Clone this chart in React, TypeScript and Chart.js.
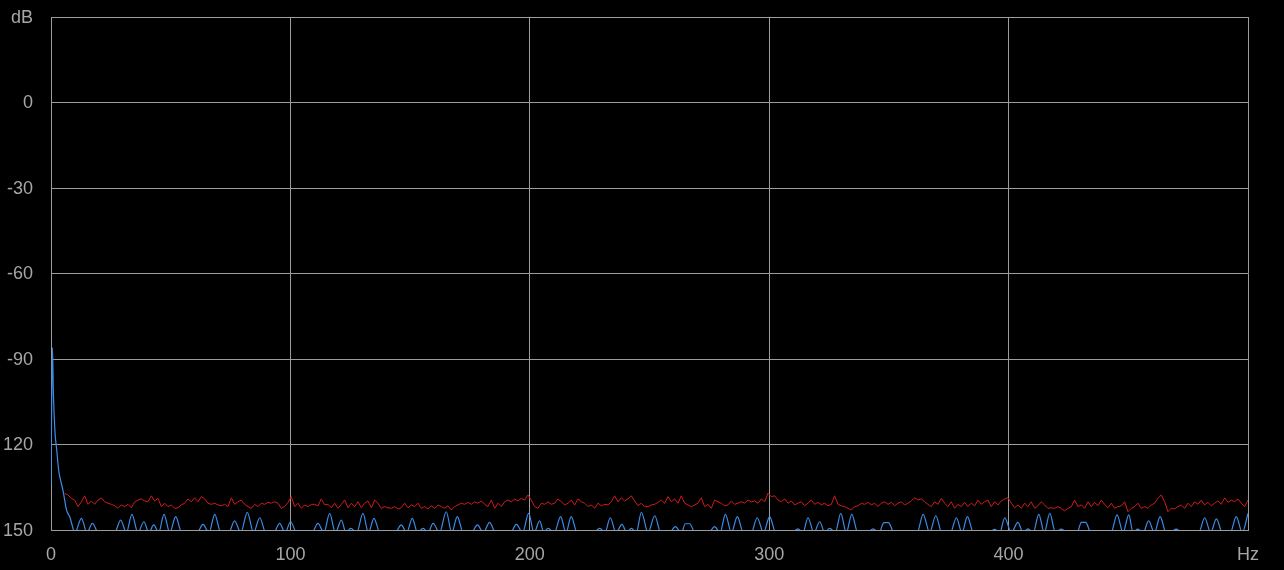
import React, { useEffect, useRef } from "react";
import { Chart, registerables } from "chart.js";

Chart.register(...registerables);

// ---- axes ----
const X_TICK_VALUES = [0, 100, 200, 300, 400, 500];
const X_TICK_LABELS = ["0", "100", "200", "300", "400", "Hz"];
const Y_TICK_VALUES = [-150, -120, -90, -60, -30, 0, 30];
const Y_TICK_LABELS = ["150", "120", "-90", "-60", "-30", "0", "dB"];

// ---- red trace (noise floor), sampled every RED_STEP_HZ from RED_START_HZ ----
const RED_START_HZ = 5.71;
const RED_STEP_HZ = 1.3923;
const redSeg1 = [
  -137.1, -137.7, -138.9, -139.5, -141.8, -140.1, -138.0, -141.0, -139.8, -141.0, -139.5, -138.7, -140.1, -140.6,
  -141.0, -141.5, -142.4, -141.2, -141.8, -141.0, -142.2, -140.1, -139.5, -139.1, -139.8, -140.1, -138.0, -139.8,
  -138.9, -141.8, -140.6, -141.8, -141.2, -142.4, -142.2, -141.2, -140.6, -139.1, -140.1, -138.7, -140.1, -138.3,
  -139.1, -140.6, -141.0, -140.6, -141.2, -141.5, -141.0, -141.8, -138.7, -141.0, -140.1, -139.5, -141.0,
];
const redSeg2 = [
  -141.8, -142.4, -141.0, -141.8, -140.6, -141.0, -140.3, -140.6, -140.1, -140.6, -142.4, -141.8, -140.3, -138.3,
  -141.8, -140.6, -142.4, -141.2, -141.8, -141.0, -141.0, -141.5, -139.1, -141.2, -141.0, -142.2, -140.6, -142.4,
  -141.0, -139.5, -142.2, -140.6, -141.8, -140.1, -142.2, -140.6, -139.8, -142.2, -139.5, -140.6, -142.4, -141.8,
  -142.2, -142.4, -141.8, -142.6, -142.2, -140.6, -142.2, -141.2, -141.8, -140.6, -142.4, -141.8, -142.6, -141.5,
  -142.4, -141.2, -141.8, -142.4,
];
const redSeg3 = [
  -141.5, -143.0, -141.8, -141.2, -140.6, -141.0, -140.3, -141.0, -140.1, -140.6, -139.8, -141.0, -141.8, -139.5,
  -142.4, -140.6, -141.8, -140.1, -139.5, -140.1, -139.1, -139.8, -138.9, -139.5, -137.7, -139.5, -141.8, -142.4,
  -140.6, -141.0, -140.1, -141.0, -140.6, -139.1, -140.1, -141.2, -140.6, -139.5, -141.2, -139.1, -140.1, -140.6,
  -141.8, -141.2, -142.4, -140.6, -141.5, -141.0, -141.2, -140.1, -138.0, -140.1, -138.7, -139.8, -139.1, -138.0,
  -139.8, -141.5, -140.6, -141.8,
];
const redSeg4 = [
  -141.8, -141.2, -141.0, -140.3, -139.5, -140.6, -138.3, -140.1, -139.1, -140.6, -138.0, -140.6, -141.2, -141.8,
  -141.2, -140.6, -138.7, -141.8, -141.0, -142.4, -139.5, -140.1, -140.6, -141.5, -141.2, -139.8, -141.0, -140.6,
  -140.1, -140.6, -139.5, -140.1, -139.8, -140.6, -139.1, -140.1, -137.1, -138.3, -138.0, -139.5, -140.1, -139.1,
  -140.6, -139.8, -141.2, -140.6, -140.1, -141.5, -140.6, -139.5, -141.0, -140.3, -141.2, -140.6, -141.5, -141.0,
  -138.0, -141.0, -141.5, -141.8,
];
const redSeg5 = [
  -142.4, -143.0, -141.8, -141.5, -140.6, -141.0, -140.3, -141.2, -140.6, -141.8, -140.6, -140.1, -141.0, -140.3,
  -141.5, -140.6, -140.1, -141.2, -140.6, -139.8, -138.7, -139.5, -139.1, -140.1, -141.0, -141.8, -140.1, -141.0,
  -138.9, -140.6, -141.8, -140.1, -142.4, -141.0, -141.8, -140.3, -141.8, -140.6, -141.5, -139.5, -141.0, -140.1,
  -139.5, -141.8, -140.1, -141.2, -139.8, -139.1, -138.7, -140.6, -142.2, -141.2, -142.4, -140.6, -141.8, -140.1,
  -142.4, -141.5, -140.1, -141.2,
];
const redSeg6 = [
  -142.4, -142.2, -142.4, -141.8, -142.4, -143.3, -142.4, -141.8, -139.5, -141.8, -141.2, -142.4, -140.1, -141.8,
  -140.3, -141.5, -139.5, -141.0, -142.2, -140.6, -142.4, -141.8, -141.5, -140.1, -143.6, -142.4, -141.8, -140.6,
  -142.4, -141.8, -142.4, -141.2, -140.6, -138.9, -137.7, -140.1, -143.6, -142.4, -142.6, -141.8, -141.2, -142.4,
  -140.6, -141.8, -140.1, -141.0, -139.5, -141.2, -140.3, -141.5, -140.6, -139.8, -141.0, -138.7, -140.3, -139.5,
  -140.1, -139.1, -140.6, -141.8, -139.5,
];
const redDb = [...redSeg1, ...redSeg2, ...redSeg3, ...redSeg4, ...redSeg5, ...redSeg6];

// ---- blue trace: [Hz, dB] (D = just under the -150 floor, between lobes) ----
const D = -150.9;
const blueHead: [number, number][] = [
  [0, -134], [0.6, -86], [1.0, -102], [1.7, -116], [2.4, -122], [3.2, -129], [4.0, -132.5],
  [5.1, -136.5], [6.5, -143], [7.9, -145.5], [10.0, D],
];
const blueLobes1: [number, number][] = [
  [12.7, -145.9], [15.0, D], [17.3, -147.7], [19.8, D], [26.6, D], [29.1, -146.5], [31.5, D], [33.8, -144.5],
  [36.3, D], [38.8, -147.1], [40.9, D], [42.9, -148.2], [45.0, D], [47.2, -144.5], [49.6, D], [52.1, -145.3],
  [54.6, D], [61.0, D], [63.5, -148.0], [66.0, D], [68.4, -144.5], [70.9, D], [74.2, D], [76.7, -146.8],
  [79.3, D], [82.0, -143.8], [84.6, D], [87.2, -145.7], [89.7, D], [93.0, D], [95.5, -147.7], [97.8, D],
  [100.1, -147.1], [102.6, D],
];
const blueLobes2: [number, number][] = [
  [109.0, D], [111.5, -147.7], [114.0, D], [116.4, -144.2], [118.8, D], [121.3, -146.5], [123.2, D],
  [125.2, -149.4], [127.7, D], [130.3, -144.2], [132.6, D], [134.9, -145.9], [137.4, D], [143.8, D],
  [146.3, -148.2], [148.6, D], [150.9, -145.9], [153.1, D], [155.4, -149.4], [157.5, D], [159.6, -147.7],
  [162.3, D], [165.1, -143.6], [167.4, D], [169.7, -145.3], [172.2, D], [175.6, D], [178.1, -148.2],
  [180.6, D], [183.2, -147.3], [185.7, D], [191.9, D], [194.4, -148.0], [197.0, D], [199.5, -144.2],
  [201.8, D],
];
const blueLobes3: [number, number][] = [
  [204.1, -146.8], [205.9, D], [207.6, -149.4], [210.2, D], [212.9, -145.3], [215.1, D], [217.3, -145.3],
  [219.8, D], [226.7, D], [229.2, -149.4], [231.4, D], [233.6, -145.7], [236.0, D], [238.5, -148.0],
  [240.5, D], [242.4, -149.4], [244.5, D], [246.6, -143.8], [249.4, D], [252.2, -145.0], [254.7, D],
  [258.3, D], [260.8, -148.8], [263.3, D], [265.0, -147.8], [266.8, -147.8], [269.0, D], [274.7, D],
  [277.2, -148.8], [279.5, D], [281.7, -144.5], [284.2, D], [286.7, -145.3], [289.2, D], [292.5, D],
  [295.0, -145.7], [297.6, D], [300.2, -145.3], [302.7, D],
];
const blueLobes4: [number, number][] = [
  [309.5, D], [312.0, -149.6], [314.1, D], [316.2, -145.7], [318.7, D], [321.1, -147.1], [323.2, D],
  [325.3, -149.4], [327.6, D], [329.9, -144.2], [332.2, D], [334.5, -144.5], [337.0, D], [340.9, D],
  [343.4, -149.6], [345.8, D], [348.0, -147.4], [349.8, -147.4], [352.2, D], [361.8, D], [364.3, -144.5],
  [367.0, D], [369.6, -145.0], [372.1, D], [375.7, D], [378.2, -145.7], [380.5, D], [382.8, -145.3],
  [385.3, D], [391.7, D], [394.2, -149.8], [396.3, D], [398.4, -145.7], [401.1, D],
];
const blueLobes5: [number, number][] = [
  [403.9, -147.3], [406.0, D], [408.1, -149.6], [410.3, D], [412.6, -144.5], [414.9, D], [417.2, -144.2],
  [419.6, D], [422.0, -149.7], [424.5, D], [428.6, D], [430.4, -147.3], [432.2, -147.3], [434.4, D],
  [442.8, D], [445.3, -144.7], [447.8, D], [450.2, -144.7], [452.0, D], [453.9, -149.7], [456.2, D],
  [458.5, -146.8], [460.9, D], [463.3, -145.3], [465.8, D], [467.5, D], [470.0, -149.7], [472.5, D],
  [479.4, D], [481.9, -145.7], [484.4, D], [486.8, -146.1], [489.3, D], [492.6, D], [495.1, -145.3],
  [497.6, D], [500.0, -144.2],
];
const bluePairs = [...blueHead, ...blueLobes1, ...blueLobes2, ...blueLobes3, ...blueLobes4, ...blueLobes5];

// ---- styles ----
const GRID_COLOR = "#9c9c9c";
const TEXT_COLOR = "#a6a6a6";
const RED = "#d21b1b";
const BLUE = "#3a8ce8";
const FONT = { family: "'Liberation Sans', Arial, sans-serif", size: 18 };

export default function App() {
  const ref = useRef<HTMLCanvasElement | null>(null);

  useEffect(() => {
    if (!ref.current) return;
    const redPoints = redDb.map((v, i) => ({ x: RED_START_HZ + i * RED_STEP_HZ, y: v }));
    const bluePoints = bluePairs.map(([x, y]) => ({ x, y }));

    const chart = new Chart(ref.current, {
      type: "line",
      data: {
        datasets: [
          {
            data: bluePoints,
            borderColor: BLUE,
            borderWidth: 1.2,
            pointRadius: 0,
            cubicInterpolationMode: "monotone",
            fill: false,
          },
          {
            data: redPoints,
            borderColor: RED,
            borderWidth: 1,
            pointRadius: 0,
            tension: 0,
            fill: false,
          },
        ],
      },
      options: {
        animation: false,
        responsive: false,
        maintainAspectRatio: false,
        elements: { line: { capBezierPoints: false } },
        layout: { padding: { left: 0, top: 17, right: 36, bottom: 0 } },
        plugins: { legend: { display: false }, tooltip: { enabled: false } },
        scales: {
          x: {
            type: "linear",
            min: 0,
            max: 500,
            afterFit: (s: any) => {
              s.height = 40;
              s.paddingLeft = 0;
              s.paddingRight = 0;
            },
            afterBuildTicks: (s: any) => {
              s.ticks = X_TICK_VALUES.map((v) => ({ value: v }));
            },
            ticks: {
              color: TEXT_COLOR,
              font: FONT,
              padding: 14.5,
              maxRotation: 0,
              autoSkip: false,
              callback: (v: any) => {
                const idx = X_TICK_VALUES.indexOf(Number(v));
                return idx >= 0 ? X_TICK_LABELS[idx] : "";
              },
            },
            grid: { color: GRID_COLOR, lineWidth: 1, drawTicks: false },
            border: { color: GRID_COLOR, width: 1 },
          },
          y: {
            type: "linear",
            min: -150,
            max: 30,
            afterFit: (s: any) => {
              s.width = 51;
              s.paddingTop = 0;
              s.paddingBottom = 0;
            },
            afterBuildTicks: (s: any) => {
              s.ticks = Y_TICK_VALUES.map((v) => ({ value: v }));
            },
            ticks: {
              color: TEXT_COLOR,
              font: FONT,
              padding: 18,
              labelOffset: 1,
              autoSkip: false,
              callback: (v: any) => {
                const idx = Y_TICK_VALUES.indexOf(Number(v));
                return idx >= 0 ? Y_TICK_LABELS[idx] : "";
              },
            },
            grid: { color: GRID_COLOR, lineWidth: 1, drawTicks: false },
            border: { color: GRID_COLOR, width: 1 },
          },
        },
      },
    });
    return () => chart.destroy();
  }, []);

  return (
    <div style={{ position: "fixed", left: 0, top: 0, width: 1284, height: 570, background: "#000" }}>
      <canvas ref={ref} width={1284} height={570} style={{ display: "block", width: 1284, height: 570 }} />
    </div>
  );
}
